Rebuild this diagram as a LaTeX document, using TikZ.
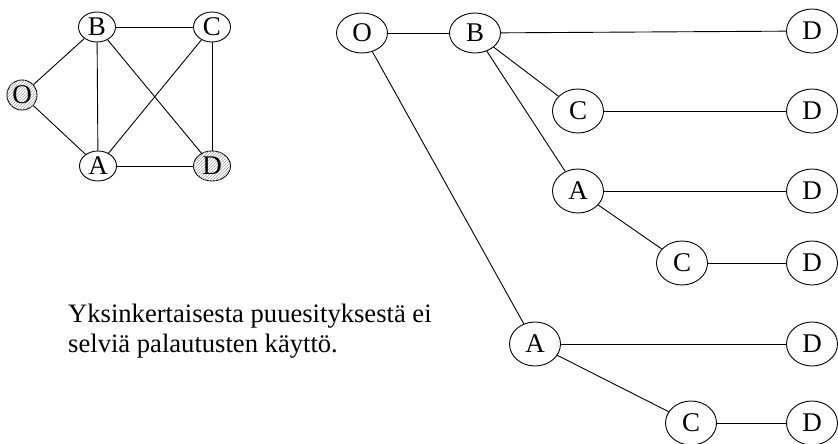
\documentclass[tikz,border=0pt]{standalone}
\usepackage{fontspec}
\setmainfont{Liberation Serif}
\usetikzlibrary{shapes.geometric,patterns}
\tikzset{
  every picture/.style={x=1pt,y=-1pt},
  gnode/.style={ellipse,draw,line width=0.9pt,fill=white,inner sep=0pt,
    minimum width=37pt,minimum height=30pt,font=\fontsize{27}{27}\selectfont},
  hatched/.style={postaction={pattern=north east lines,pattern color=gray!70}},
  tnode/.style={ellipse,draw,line width=0.9pt,fill=white,inner sep=0pt,
    minimum width=51pt,minimum height=44pt,font=\fontsize{27}{27}\selectfont},
  edge/.style={line width=0.9pt},
  caption/.style={anchor=base west,inner sep=0pt,font=\fontsize{26.6}{30}\selectfont}
}
\begin{document}
\begin{tikzpicture}
\useasboundingbox (0,0) rectangle (838,444);
% small graph
\node[gnode,hatched,minimum width=30pt] (gO) at (22,95) {O};
\node[gnode] (gB) at (97,27) {B};
\node[gnode] (gC) at (212,27) {C};
\node[gnode] (gA) at (98,166) {A};
\node[gnode,hatched] (gD) at (212,166) {D};
\draw[edge] (gO) -- (gB);
\draw[edge] (gO) -- (gA);
\draw[edge] (gB) -- (gA);
\draw[edge] (gB) -- (gC);
\draw[edge] (gB) -- (gD);
\draw[edge] (gC) -- (gA);
\draw[edge] (gC) -- (gD);
\draw[edge] (gA) -- (gD);
% tree
\node[tnode,minimum height=40pt] (tO) at (362,33) {O};
\node[tnode,minimum height=40pt] (tB) at (475,33) {B};
\node[tnode] (tD1) at (812,31) {D};
\node[tnode] (tC1) at (578,111) {C};
\node[tnode] (tD2) at (812,111) {D};
\node[tnode] (tA1) at (578,191) {A};
\node[tnode] (tD3) at (812,191) {D};
\node[tnode] (tC2) at (682,263) {C};
\node[tnode] (tD4) at (812,263) {D};
\node[tnode] (tA2) at (535,344) {A};
\node[tnode] (tD5) at (812,344) {D};
\node[tnode] (tC3) at (691,423) {C};
\node[tnode] (tD6) at (812,423) {D};
\draw[edge] (tO) -- (tB);
\draw[edge] (tB) -- (tD1);
\draw[edge] (tB) -- (tC1);
\draw[edge] (tC1) -- (tD2);
\draw[edge] (tB) -- (tA1);
\draw[edge] (tA1) -- (tD3);
\draw[edge] (tA1) -- (tC2);
\draw[edge] (tC2) -- (tD4);
\draw[edge] (tO) -- (tA2);
\draw[edge] (tA2) -- (tD5);
\draw[edge] (tA2) -- (tC3);
\draw[edge] (tC3) -- (tD6);
% caption
\node[caption] (cap1) at (68,322) {Yksinkertaisesta puuesityksestä ei};
\node[caption] (cap2) at (68,352) {selviä palautusten käyttö.};
\end{tikzpicture}
\end{document}
